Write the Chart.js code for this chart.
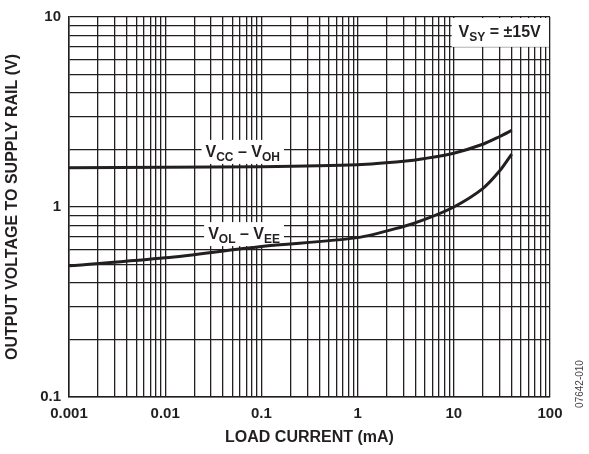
<!DOCTYPE html>
<html>
<head>
<meta charset="utf-8">
<script src="https://cdn.jsdelivr.net/npm/chart.js@4/dist/chart.umd.min.js"></script>
<style>
  html, body { margin: 0; padding: 0; background: #fff; }
</style>
</head>
<body>
<canvas id="chart" width="589" height="454"></canvas>
<script>
// data (load current in mA, voltage to rail in V)
const loadCurrent = [0.001, 0.01, 0.1, 1, 3, 5, 10, 20, 30, 40];
const vccMinusVoh = [1.61, 1.62, 1.63, 1.67, 1.74, 1.80, 1.92, 2.14, 2.35, 2.53];
const volMinusVee = [0.49, 0.54, 0.62, 0.69, 0.79, 0.86, 1.0, 1.25, 1.55, 1.9];

const xDecades = [0.001, 0.01, 0.1, 1, 10, 100];
const xTickLabels = ['0.001', '0.01', '0.1', '1', '10', '100'];
const yDecades = [0.1, 1, 10];
const yTickLabels = ['0.1', '1', '10'];

const ink = '#231f20';
const font = '"Liberation Sans", Arial, sans-serif';

// 1..9 in every decade, plus the last decade
function logTicks(decades) {
    const ticks = [];
    decades.forEach((d, i) => {
        if (i === decades.length - 1) {
            ticks.push({ value: d });
            return;
        }
        for (let m = 1; m < 10; m++) ticks.push({ value: d * m });
    });
    return ticks;
}

function decadeLabel(v, decades, labels) {
    const i = decades.findIndex(d => Math.abs(d - v) < d * 1e-6);
    return i >= 0 ? labels[i] : '';
}

// text pieces: [text, isSubscript]
const curveLabels = [
    { x: 0.064, y: 1.95, parts: [['V', false], ['CC', true], [' \u2013 V', false], ['OH', true]] },
    { x: 0.066, y: 0.72, parts: [['V', false], ['OL', true], [' \u2013 V', false], ['EE', true]] }
];
const supplyLabel = { x: 30, y: 8.45, parts: [['V', false], ['SY', true], [' = \u00b115V', false]] };

function measureParts(ctx, parts, size, subSize) {
    let w = 0;
    parts.forEach(([t, sub]) => {
        ctx.font = 'bold ' + (sub ? subSize : size) + 'px ' + font;
        w += ctx.measureText(t).width;
    });
    return w;
}

function drawParts(ctx, parts, x, baseline, size, subSize) {
    ctx.fillStyle = ink;
    ctx.textBaseline = 'alphabetic';
    ctx.textAlign = 'left';
    parts.forEach(([t, sub]) => {
        ctx.font = 'bold ' + (sub ? subSize : size) + 'px ' + font;
        ctx.fillText(t, x, baseline + (sub ? 4 : 0));
        x += ctx.measureText(t).width;
    });
}

const labelPlugin = {
    id: 'labels',
    beforeDatasetsDraw(chart) {
        const ctx = chart.ctx;
        const xs = chart.scales.x, ys = chart.scales.y;
        const area = chart.chartArea;
        ctx.save();
        curveLabels.forEach(l => {
            const w = measureParts(ctx, l.parts, 16, 12);
            const cx = xs.getPixelForValue(l.x), cy = ys.getPixelForValue(l.y);
            ctx.fillStyle = '#fff';
            ctx.fillRect(cx - w / 2 - 4, cy - 12, w + 8, 24);
            drawParts(ctx, l.parts, cx - w / 2, cy + 5, 16, 12);
        });
        // supply box in the corner
        const w = measureParts(ctx, supplyLabel.parts, 16, 12);
        const cx = xs.getPixelForValue(supplyLabel.x), cy = ys.getPixelForValue(supplyLabel.y);
        const bx = cx - w / 2 - 7;
        ctx.fillStyle = '#fff';
        ctx.fillRect(bx, area.top + 1, area.right - 1 - bx, cy + 15 - area.top);
        drawParts(ctx, supplyLabel.parts, cx - w / 2, cy + 6, 16, 12);
        ctx.restore();
    },
    afterDraw(chart) {
        const ctx = chart.ctx;
        ctx.save();
        ctx.translate(580, 384);
        ctx.rotate(-Math.PI / 2);
        ctx.font = '10px ' + font;
        ctx.fillStyle = '#444';
        ctx.textAlign = 'center';
        ctx.textBaseline = 'middle';
        ctx.fillText('07642-010', 0, 0);
        ctx.restore();
    }
};

const ctx = document.getElementById('chart').getContext('2d');
const chart = new Chart(ctx, {
    type: 'line',
    data: {
        datasets: [
            {
                label: 'VCC - VOH',
                data: loadCurrent.map((x, i) => ({ x: x, y: vccMinusVoh[i] })),
                borderColor: ink,
                borderWidth: 3,
                pointRadius: 0,
                tension: 0.3
            },
            {
                label: 'VOL - VEE',
                data: loadCurrent.map((x, i) => ({ x: x, y: volMinusVee[i] })),
                borderColor: ink,
                borderWidth: 3,
                pointRadius: 0,
                tension: 0.3
            }
        ]
    },
    options: {
        responsive: false,
        animation: false,
        layout: { padding: { top: 14, right: 39, left: 0, bottom: 0 } },
        plugins: {
            legend: { display: false },
            tooltip: { enabled: false }
        },
        scales: {
            x: {
                type: 'logarithmic',
                min: 0.001,
                max: 100,
                afterFit: s => { s.height = 57; },
                afterBuildTicks: s => { s.ticks = logTicks(xDecades); },
                grid: { color: ink, lineWidth: 1.3, drawTicks: false },
                border: { color: ink, width: 1.5 },
                ticks: {
                    autoSkip: false,
                    maxRotation: 0,
                    padding: 8,
                    color: ink,
                    font: { family: font, size: 15, weight: 'bold' },
                    callback: v => decadeLabel(v, xDecades, xTickLabels)
                },
                title: {
                    display: true,
                    text: 'LOAD CURRENT (mA)',
                    color: ink,
                    font: { family: font, size: 16, weight: 'bold' },
                    padding: { top: 0, bottom: 7 }
                }
            },
            y: {
                type: 'logarithmic',
                min: 0.1,
                max: 10,
                afterFit: s => { s.width = 69; },
                afterBuildTicks: s => { s.ticks = logTicks(yDecades); },
                grid: { color: ink, lineWidth: 1.3, drawTicks: false },
                border: { color: ink, width: 1.5 },
                ticks: {
                    autoSkip: false,
                    padding: 8,
                    color: ink,
                    font: { family: font, size: 15, weight: 'bold' },
                    callback: v => decadeLabel(v, yDecades, yTickLabels)
                },
                title: {
                    display: true,
                    text: 'OUTPUT VOLTAGE TO SUPPLY RAIL (V)',
                    color: ink,
                    font: { family: font, size: 16, weight: 'bold' },
                    padding: { top: 3, bottom: 0 }
                }
            }
        }
    },
    plugins: [labelPlugin]
});
</script>
</body>
</html>
